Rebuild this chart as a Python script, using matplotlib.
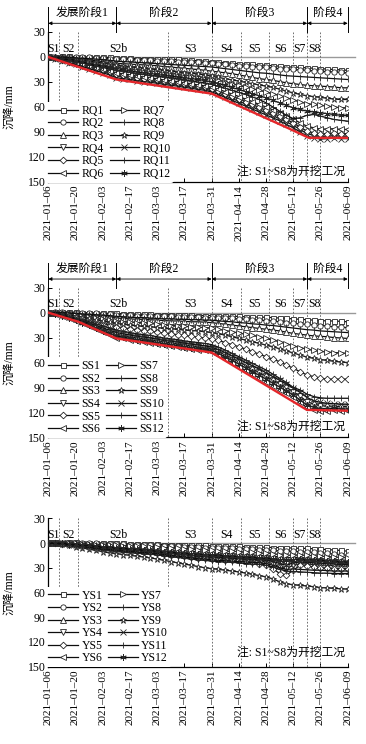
import numpy as np
import pandas as pd
import matplotlib
matplotlib.use('Agg')
import matplotlib.pyplot as plt
import matplotlib.transforms as mtransforms

plt.rcParams['font.family'] = ['Liberation Serif', 'Noto Sans CJK SC']
plt.rcParams['axes.unicode_minus'] = False

# ---------------- data ----------------
start = pd.Timestamp('2021-01-06')
dates = pd.date_range(start, periods=45, freq='84h')
tick_dates = pd.date_range('2021-01-06', '2021-06-09', freq='14D')
tick_labels = [d.strftime('%Y–%m–%d') for d in tick_dates]

s_line_days = [5.25, 15.4, 61.6, 84, 99, 113.6, 125.7, 133.2, 140]
s_label_days = [2.6, 10.4, 36, 73, 91.5, 106.3, 119.6, 129.4, 136.8]
s_labels = ['S1', 'S2', 'S2b', 'S3', 'S4', 'S5', 'S6', 'S7', 'S8']
stage_bounds = [0, 35, 84, 133.2, 154]
stage_names = ['发展阶段1', '阶段2', '阶段3', '阶段4']

# Panel 1: RQ
RQ1 = [0, -0.5, -1, -1, -0.5, 0, 0, 0, 0.5, 0.5, 1, 1.5, 1.5, 2, 2, 2, 2.5, 2.5,
       3, 3, 3.5, 4, 4.5, 5, 5.5, 6, 7, 7.5, 8, 8.5, 9, 9.5, 10, 10.5, 11, 12, 12, 12.5, 13,
       13.5, 14, 14.5, 15, 15.5, 16]
RQ2 = [0, -0.5, -0.5, 0, 0, 0.5, 0.5, 1, 1.5, 2, 2.5, 3, 3, 3.5, 3.5, 4, 4.5, 5,
       5, 5.5, 6, 6, 6.5, 7, 7.5, 8, 9, 10, 10.5, 11, 11.5, 12, 12.5, 13, 14, 15, 15, 15.5, 16,
       16.5, 17, 17.5, 18, 18.5, 19]
RQ3 = [0, 0, 0.5, 1, 2, 2.5, 3.5, 4.5, 5.5, 6.5, 7.5, 8, 8.5, 9, 9.5, 10, 10.5, 11.5,
       12, 13, 13.5, 14.5, 15, 16, 17, 18, 19, 20, 21.5, 23, 24.5, 26, 27, 28, 29.5, 31, 32, 33, 34,
       34.5, 35, 35.5, 36, 37, 37]
RQ4 = [0, 1.5, 4, 6, 8, 10.5, 13, 15, 17.5, 20, 23, 24, 25.5, 27, 28, 29, 30, 31.5,
       32.5, 33.5, 35, 36, 37.5, 38.5, 40.5, 43, 46.5, 50, 53, 56.5, 60, 63.5, 67, 70.5, 74, 78, 82, 87, 92,
       94, 95.5, 95, 94.5, 95, 95]
RQ5 = [0, 1.5, 3.5, 5.5, 7.5, 9.5, 12, 14, 16, 18.5, 21, 22, 23.5, 25, 26, 27, 28, 29.5,
       30.5, 31.5, 33, 34, 35.5, 36.5, 38.5, 41, 44, 47, 50.5, 53.5, 57, 60.5, 64, 67.5, 71, 75, 79, 84, 89,
       91, 92.5, 92, 91.5, 92, 92]
RQ6 = [0, 1, 3, 5, 7, 9, 11, 13, 15, 17, 19, 20, 21.5, 23, 24, 25, 26, 27.5,
       28.5, 29.5, 31, 32, 33.5, 34.5, 36.5, 39, 41.5, 44.5, 47.5, 50.5, 53.5, 57, 60, 63.5, 67, 71, 74.5, 79, 83,
       85, 86.5, 86.5, 86, 87, 87]
RQ7 = [0, 0.5, 1.5, 2.5, 3.5, 5, 6.5, 8, 9.5, 11, 12, 13, 14, 15, 16, 17, 17.5, 18.5,
       19.5, 20.5, 21.5, 22.5, 23.5, 24.5, 26, 28, 30, 32, 34, 36, 38, 40, 42, 44, 46.5, 49, 51.5, 54, 56,
       57, 58, 59, 60, 61, 61]
RQ8 = [0, 1, 2.5, 4, 5.5, 7, 9, 11, 12.5, 14.5, 16, 17, 18.5, 20, 21, 22, 23, 24,
       25, 26, 27.5, 28.5, 30, 31, 33, 35, 37.5, 40, 42.5, 45, 48, 51, 55, 60, 65, 70, 74, 73, 70,
       69, 71, 73, 75, 76, 77]
RQ9 = [0, 0, 1, 2, 3, 4, 5, 6, 7, 8, 9.5, 10.5, 11.5, 12.5, 13.5, 14.5, 15, 16,
       17, 18, 19, 19.5, 20.5, 21.5, 23, 24.5, 26, 27.5, 29, 30.5, 32, 33.5, 35, 36.5, 38.5, 41, 43, 45, 46.5,
       47.5, 48.5, 49.5, 50.5, 51, 51]
RQ10 = [0, 2, 4.5, 7, 9, 11.5, 14, 16.5, 19, 21.5, 25, 26, 27, 28.5, 29.5, 30.5, 31.5, 33,
        34, 35, 36.5, 37.5, 39, 40, 42, 45, 48.5, 52, 55.5, 59, 62.5, 66, 69.5, 73, 76.5, 81, 85, 90, 95,
        97, 98.5, 98, 97.5, 98, 98]
RQ11 = [0, 0, 0, 0.5, 1, 1.5, 2, 2.5, 3, 4, 5, 5.5, 6, 6.5, 7, 7.5, 8, 8.5,
        9, 9.5, 10, 10.5, 11, 11.5, 12, 13, 14, 15, 16, 17, 18, 19, 19.5, 20.5, 21.5, 22.5, 23, 23.5, 24,
        24.5, 25, 25.5, 26, 26.5, 27]
RQ12 = [0, 0.5, 2, 3, 4.5, 6, 8, 9.5, 11, 12.5, 14, 15, 16.5, 18, 19, 20, 21, 22,
        23, 24, 25, 26, 27, 28, 30, 32, 34, 36.5, 39, 41.5, 44, 46.5, 49, 52, 55, 58, 61, 63, 65,
        66, 67, 68, 69, 70, 70]
rq_red_days = [0, 35, 84, 123, 134, 154]
rq_red = [0, 27, 44, 85, 97, 97]

# Panel 2: SS
SS1 = [0, -0.5, -1, -1, -0.5, 0, 0, 0.5, 0.5, 1, 1, 1.5, 1.5, 2, 2, 2, 2.5, 2.5,
       2.5, 3, 3, 3, 3.5, 3.5, 3.5, 4, 4, 4.5, 4.5, 5, 5, 5.5, 5.5, 6, 6.5, 7, 7.5, 8, 8.5,
       9, 9.5, 10, 10, 10.5, 11]
SS2 = [0, -0.5, -0.5, 0, 0, 0.5, 1, 1, 1.5, 2, 2.5, 3, 3, 3.5, 3.5, 4, 4, 4.5,
       4.5, 5, 5, 5.5, 5.5, 6, 6, 6.5, 7, 7, 7.5, 8, 8.5, 9, 9.5, 10, 11, 12, 13, 13.5, 14,
       15, 15.5, 16, 17, 17.5, 18]
SS3 = [0, 0, 0.5, 1, 1.5, 2.5, 3, 4, 4.5, 5.5, 6.5, 7, 7.5, 8, 8, 8.5, 9, 9.5,
       10, 10, 10.5, 11, 11, 11.5, 12, 13, 14, 15, 16, 17, 18, 19, 20, 21, 22, 23.5, 25, 26, 27,
       28, 28.5, 29, 30, 30.5, 31]
SS4 = [0, 1.5, 3.5, 6, 8.5, 11, 14, 17, 20, 23, 26, 27.5, 29, 30.5, 31.5, 32.5, 34, 35.5,
       36.5, 37.5, 39, 40, 41, 42, 43.5, 47, 50.5, 55, 59, 63.5, 68, 72, 76.5, 81, 85.5, 90, 95, 100.5, 107,
       110, 112, 112.5, 112.5, 113, 113]
SS5 = [0, 0.5, 2, 3.5, 5, 7, 9, 11, 13, 15, 17, 18, 19.5, 20.5, 21.5, 22.5, 23.5, 24.5,
       25.5, 26.5, 27.5, 28.5, 29.5, 30.5, 31.5, 33.5, 36, 38.5, 41, 44, 47, 50, 53, 56, 59, 63, 67, 71, 75,
       77, 79, 80, 80, 80, 80]
SS6 = [0, 2, 4.5, 7, 9.5, 12.5, 16, 19.5, 23, 26.5, 30, 31, 32.5, 34, 35, 36, 37.5, 39,
       40, 41, 42.5, 43.5, 44.5, 45.5, 47, 51, 55.5, 60, 65, 69.5, 74, 78.5, 83, 88, 92.5, 97, 102, 108, 114,
       117, 118.5, 118, 117.5, 118, 118]
SS7 = [0, 0, 1, 2, 3, 4, 5, 6.5, 7.5, 9, 10, 11, 11.5, 12, 12.5, 13, 14, 15,
       15.5, 16, 16.5, 17, 17.5, 18, 18.5, 20, 21.5, 23, 24.5, 26, 27.5, 29, 31, 33, 35, 37.5, 40, 42, 44,
       45.5, 46.5, 47.5, 48, 48.5, 49]
SS8 = [0, 1, 2.5, 4.5, 6.5, 8.5, 11, 13.5, 16, 18.5, 21, 22.5, 24, 25.5, 26.5, 27.5, 29, 30.5,
       31.5, 32.5, 34, 35, 36, 37, 38.5, 41.5, 45, 49, 53, 57, 61, 65, 69, 74, 79, 84, 90, 93, 98,
       101, 102.5, 103, 103, 103, 103]
SS9 = [0, 0.5, 1.5, 2.5, 4, 5.5, 7, 8.5, 10, 11.5, 13, 14, 15, 16, 16.5, 17, 18, 19,
       19.5, 20, 21, 21.5, 22, 23, 24, 25.5, 27, 29, 31, 33, 35, 37, 39, 41, 43.5, 46, 48.5, 51, 53.5,
       55, 56.5, 57.5, 58.5, 59.5, 60]
SS10 = [0, 1, 3, 5.5, 8, 10, 13, 15.5, 18.5, 21, 24, 25.5, 27, 28.5, 29.5, 30.5, 32, 33.5,
        34.5, 35.5, 37, 38, 39, 40, 41.5, 44.5, 48, 52, 56, 60, 64, 68, 72.5, 77, 81.5, 86, 91, 96, 102,
        106, 108, 109, 109.5, 110, 110]
SS11 = [0, 0, 0, 0.5, 1, 1.5, 2, 2.5, 3, 3.5, 4.5, 5, 5.5, 6, 6, 6.5, 7, 7.5,
        7.5, 8, 8, 8.5, 8.5, 9, 9, 10, 10.5, 11, 12, 12.5, 13.5, 14, 15, 15.5, 16.5, 17.5, 18.5, 19.5, 20.5,
        21, 22, 22.5, 23, 23.5, 24]
SS12 = [0, 1.5, 4, 6.5, 9, 12, 15, 18.5, 22, 25, 28, 29.5, 31, 32.5, 33.5, 34.5, 36, 37.5,
        38.5, 39.5, 41, 42, 43, 44, 45.5, 49, 53, 57.5, 62, 66.5, 71, 75.5, 80, 85, 89.5, 94, 99, 105, 111,
        114, 115.5, 115.5, 115, 116, 116]
ss_red_days = [0, 15.5, 35, 84, 133, 154]
ss_red = [0, 11, 31, 48, 117, 118]

# Panel 3: YS
YS1 = [0, 0, -0.5, -1, -1, -0.5, -0.5, 0, 0, 0, 0.5, 0.5, 1, 1, 1, 1.5, 1.5, 2,
       2, 2.5, 2.5, 3, 3, 3, 3.5, 3.5, 4, 4, 4, 4.5, 4.5, 5, 5, 5.5, 5.5, 6, 6, 6.5, 6.5,
       7, 7.5, 8, 8.5, 9, 10]
YS2 = [0, 0, -0.5, -0.5, 0, 0, 0.5, 0.5, 1, 1, 1.5, 1.5, 2, 2, 2, 2.5, 3, 3.5,
       4, 4, 4.5, 5, 5, 5.5, 6, 6, 6.5, 6.5, 7, 7, 7.5, 8, 8.5, 9, 9.5, 10, 10, 10.5, 11,
       11.5, 12, 12.5, 13.5, 14, 15]
YS3 = [0, 0, 0, 0.5, 1, 1.5, 2, 2.5, 3, 3.5, 4, 4.5, 5, 5.5, 6, 6.5, 7, 8,
       8.5, 9, 9.5, 10, 10.5, 11, 11.5, 12, 12.5, 13, 13.5, 14, 14.5, 15, 15.5, 16, 17, 18, 17.5, 17.5, 18,
       18.5, 19, 19.5, 20, 20.5, 21]
YS4 = [0, 0, 1, 2, 3, 3.5, 4.5, 5.5, 6, 7, 7.5, 8.5, 9, 9.5, 10, 10.5, 11.5, 12.5,
       13.5, 14.5, 15, 16, 17, 17.5, 18, 18.5, 19, 19.5, 20, 20.5, 21, 22, 23, 25, 29, 31, 27, 25, 25.5,
       26, 26.5, 27, 27.5, 28, 28]
YS5 = [0, 0, 1, 1.5, 2.5, 3.5, 4.5, 5.5, 6.5, 7.5, 8, 9, 9.5, 10, 10.5, 11, 12, 13,
       14, 15, 16, 17, 18, 18.5, 19, 19.5, 20, 20.5, 21, 22, 23, 25, 27, 31, 37, 39, 33, 27, 28,
       29, 30, 30.5, 31, 31, 31]
YS6 = [0, 0, 0.5, 1, 2, 3, 3.5, 4.5, 5, 6, 6.5, 7, 7.5, 8, 8.5, 9, 10, 11,
       12, 12.5, 13, 14, 14.5, 15, 15.5, 16, 16.5, 17, 17.5, 18, 18.5, 19, 19.5, 20.5, 22, 23, 21.5, 21, 21.5,
       22, 22.5, 23, 23.5, 24, 24]
YS7 = [0, 0, 0, 0, 0.5, 1, 1.5, 2, 2.5, 3, 3, 3.5, 3.5, 4, 4, 4.5, 5, 5.5,
       6, 6.5, 7, 7.5, 8, 8.5, 9, 9.5, 10, 10, 10.5, 11, 11.5, 12, 12.5, 13, 14, 15, 14.5, 14.5, 15,
       15.5, 16, 16.5, 17, 17.5, 18]
YS8 = [0, 0.5, 1.5, 2.5, 3.5, 5, 6, 7, 8, 9, 10, 11, 11.5, 12.5, 13, 13.5, 14.5, 15.5,
       16.5, 17.5, 18.5, 19.5, 20.5, 21, 22, 22.5, 23, 23.5, 24, 25, 25.5, 26, 27, 29, 32, 34, 34.5, 35, 35.5,
       36, 36.5, 36.5, 37, 37, 37]
YS9 = [0, 0.5, 1.5, 3, 4.5, 6, 7.5, 9, 10.5, 12, 13, 14, 15, 16, 17, 18, 19.5, 21,
       22.5, 24, 25.5, 27, 28.5, 30, 31, 32, 33, 34, 35, 36.5, 38, 39.5, 41, 43.5, 47, 49.5, 50.5, 51.5, 52,
       53, 54, 54.5, 55, 55.5, 56]
YS10 = [0, 0, 0.5, 1.5, 2.5, 3, 4, 5, 5.5, 6.5, 7, 8, 8.5, 9, 9.5, 10, 11, 12,
        13, 13.5, 14.5, 15, 16, 16.5, 17, 17.5, 18, 18.5, 19, 19.5, 20, 20.5, 21, 22, 25, 27, 24, 23, 23.5,
        24, 24.5, 25, 25.5, 26, 26]
YS11 = [0, 0, 1, 2, 3, 4, 5, 6, 7, 8, 8.5, 9.5, 10, 11, 11.5, 12, 13, 14,
        15, 16, 17, 18, 19, 19.5, 20.5, 21, 21.5, 22, 22.5, 23, 23.5, 24, 25, 27, 30, 32, 31.5, 32, 32.5,
        33, 33, 33.5, 34, 34, 34]
YS12 = [0, 0, 0.5, 1, 1.5, 2.5, 3, 4, 4.5, 5, 6, 6.5, 7, 7.5, 8, 8.5, 9.5, 10.5,
        11, 12, 12.5, 13, 13.5, 14, 14.5, 15, 15.5, 16, 16.5, 17, 17.5, 18, 18.5, 19, 20, 21, 20, 19.5, 20,
        20.5, 21, 21.5, 22, 22.5, 23]

rq_names = ['RQ%d' % i for i in range(1, 13)]
ss_names = ['SS%d' % i for i in range(1, 13)]
ys_names = ['YS%d' % i for i in range(1, 13)]
rq_series = [RQ1, RQ2, RQ3, RQ4, RQ5, RQ6, RQ7, RQ8, RQ9, RQ10, RQ11, RQ12]
ss_series = [SS1, SS2, SS3, SS4, SS5, SS6, SS7, SS8, SS9, SS10, SS11, SS12]
ys_series = [YS1, YS2, YS3, YS4, YS5, YS6, YS7, YS8, YS9, YS10, YS11, YS12]

# ---------------- styling ----------------
markers = ['s', 'o', '^', 'v', 'D', '<', '>', '+', '*', 'x', '|', (6, 2, 0)]
msizes = [3.6, 3.8, 3.8, 3.8, 3.4, 3.8, 3.8, 5.0, 4.6, 4.0, 5.0, 4.6]

x_days = np.asarray((dates - start) / pd.Timedelta(days=1), dtype=float)
tick_days = np.asarray((tick_dates - start) / pd.Timedelta(days=1), dtype=float)

fig = plt.figure(figsize=(3.66, 7.44), dpi=100)
rects = [[0.132, 0.7554, 0.818, 0.2016],
         [0.132, 0.4122, 0.818, 0.2011],
         [0.132, 0.1039, 0.818, 0.1995]]
note_y = [0.069, 0.071, 0.094]


def draw_panel(ax, series, names, red_x=None, red_y=None, header=True, note_yy=0.07):
    for vals, name, m, ms in zip(series, names, markers, msizes):
        ax.plot(x_days, vals, color='0.05', lw=0.9, marker=m, ms=ms, mfc='white',
                mec='0.15', mew=0.6, label=name, zorder=3)
    if red_x is not None:
        ax.plot(red_x, red_y, color='#e5262a', lw=1.7, zorder=4)
    ax.plot([0, 157.5], [0, 0], color='0.6', lw=1.0, clip_on=False, zorder=1)
    for d in s_line_days:
        ax.plot([d, d], [-30, 150], color='0.35', lw=0.6, ls=(0, (2, 2)), zorder=2)
    for d, lab in zip(s_label_days, s_labels):
        ax.text(d, -10, lab, ha='center', va='center', fontsize=8.5, zorder=6)
    ax.set_xlim(0, 154)
    ax.set_ylim(150, -30)
    ax.set_yticks([-30, 0, 30, 60, 90, 120, 150])
    ax.set_yticklabels(['30', '0', '30', '60', '90', '120', '150'], fontsize=8.5)
    ax.set_xticks(tick_days)
    ax.set_xticklabels(tick_labels, rotation=90, fontsize=8)
    ax.tick_params(direction='in', length=3, width=0.7, pad=2)
    for sp in ['top', 'right']:
        ax.spines[sp].set_visible(False)
    for sp in ['left', 'bottom']:
        ax.spines[sp].set_linewidth(0.9)
    ax.set_ylabel('沉降/mm', fontsize=8.5)
    ax.yaxis.set_label_coords(-0.11, 0.5)
    leg = ax.legend(ncol=2, loc='lower left', bbox_to_anchor=(-0.01, -0.005),
                    fontsize=8.5, frameon=True, facecolor='white', edgecolor='none',
                    framealpha=1, handlelength=2.5, handletextpad=0.3,
                    columnspacing=0.5, labelspacing=0.05, borderpad=0.25,
                    borderaxespad=0.0)
    leg.set_zorder(7)
    ax.text(0.99, note_yy, '注: S1~S8为开挖工况', transform=ax.transAxes,
            ha='right', va='center', fontsize=8.5, zorder=8)
    if header:
        trans = mtransforms.blended_transform_factory(ax.transData, ax.transAxes)
        for b in stage_bounds:
            ax.plot([b, b], [1.0, 1.167], transform=trans, color='k', lw=0.7, clip_on=False)
        for b0, b1, nm in zip(stage_bounds[:-1], stage_bounds[1:], stage_names):
            ax.annotate('', xy=(b1, 1.058), xytext=(b0, 1.058), xycoords=trans,
                        textcoords=trans, annotation_clip=False,
                        arrowprops=dict(arrowstyle='<|-|>', lw=0.6, color='k',
                                        mutation_scale=5, shrinkA=0, shrinkB=0))
            ax.text((b0 + b1) / 2, 1.125, nm, transform=trans, ha='center',
                    va='center', fontsize=8.5)


ax1 = fig.add_axes(rects[0])
draw_panel(ax1, rq_series, rq_names, rq_red_days, rq_red, True, note_y[0])
ax2 = fig.add_axes(rects[1])
draw_panel(ax2, ss_series, ss_names, ss_red_days, ss_red, True, note_y[1])
ax3 = fig.add_axes(rects[2])
draw_panel(ax3, ys_series, ys_names, None, None, False, note_y[2])

fig.savefig('out.png', dpi=100, facecolor='white')
